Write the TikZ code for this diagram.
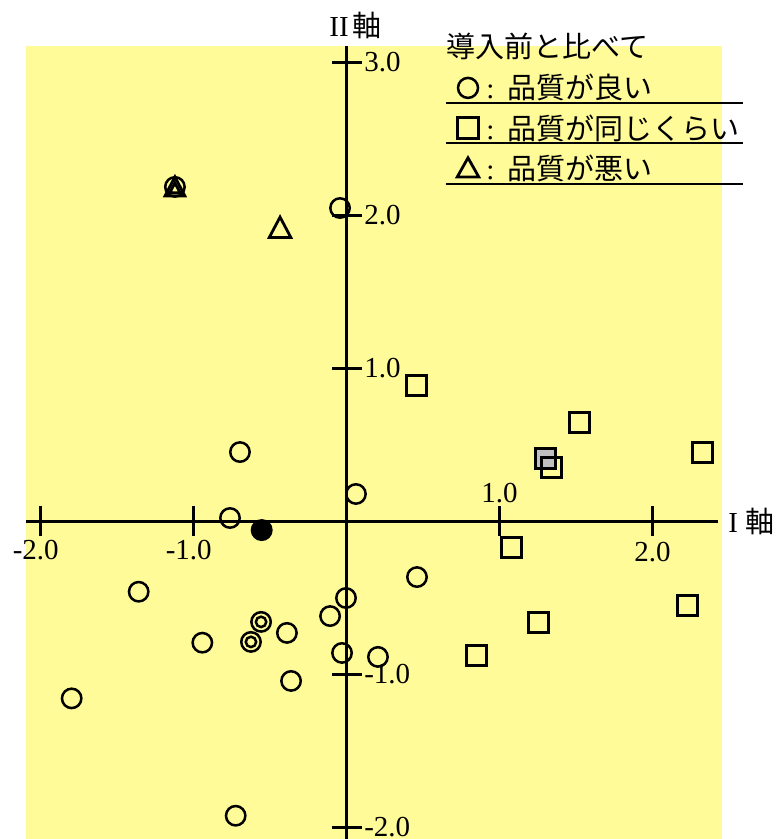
\documentclass[tikz,border=0pt]{standalone}
\usepackage{fontspec}
\setmainfont{Liberation Serif}
\newfontfamily\jfont{Noto Sans CJK JP}
\definecolor{plotbg}{RGB}{255,251,153}
\definecolor{markgray}{RGB}{192,192,192}
\tikzset{
  axisline/.style={black, line width=1.4pt},
  goodmk/.style={black, line width=1.25pt},
  samemk/.style={black, line width=1.5pt},
  badmk/.style={black, line width=1.4pt, line join=miter},
  ticklab/.style={inner sep=0pt}
}

\begin{document}
\begin{tikzpicture}[x=76.5pt, y=76.5pt, font=\fontsize{14.5}{17}\selectfont]
    % Page size and the yellow plot area
    \useasboundingbox (-2.2654,-2.0771) rectangle (2.8131,3.4065);
    \fill[plotbg] (-2.0954,-2.0771) rectangle (2.4516,3.1059);

    % Draw axes
    \draw[axisline] (-2.0954,0) -- (2.4275,0);
    \draw[axisline] (0,-2.0771) -- (0,3.1059);
    \node[ticklab, anchor=west] (xname) at (2.4928,0) {I {\jfont 軸}};
    \node[ticklab, anchor=west] (yname) at (-0.115,3.243) {II\kern2pt{\jfont 軸}};

    % Ticks on the I axis
    \draw[axisline] (-2,-0.098) -- (-2,0.098);
    \draw[axisline] (-1,-0.098) -- (-1,0.098);
    \draw[axisline] (1,-0.098) -- (1,0.098);
    \draw[axisline] (2,-0.098) -- (2,0.098);
    \node[anchor=north, inner sep=2pt] (xm2) at (-2,-0.098) {\llap{-}2.0};
    \node[anchor=north, inner sep=2pt] (xm1) at (-1,-0.098) {\llap{-}1.0};
    \node[anchor=south, inner sep=1.5pt] (xp1) at (1,0.098) {1.0};
    \node[anchor=north, inner sep=3pt] (xp2) at (2,-0.098) {2.0};

    % Ticks on the II axis
    \foreach \t/\lab [count=\i] in {3/3.0, 2/2.0, 1/1.0, -1/-1.0, -2/-2.0}
      \draw[axisline] (-0.095,\t) -- (0.1,\t)
        node[ticklab, anchor=west, xshift=0.5pt] (yt\i) {\lab};

    % Legend
    \node[ticklab, anchor=west] (legtitle) at (0.650,3.106) {\jfont 導入前と比べて};
    \draw[goodmk] (0.7935,2.832) circle (5pt);
    \draw[samemk] (0.7935,2.570) ++(-5.2pt,-5.2pt) rectangle ++(10.4pt,10.4pt);
    \draw[badmk] (0.7935,2.307) ++(-5.4pt,-4.4pt) -- ++(10.8pt,0) -- ++(-5.4pt,9.6pt) -- cycle;
    \node[ticklab, anchor=west] (leggood) at (0.911,2.832) {:\hspace{6.5pt}{\jfont 品質が良い}};
    \node[ticklab, anchor=west] (legsame) at (0.911,2.570) {:\hspace{6.5pt}{\jfont 品質が同じくらい}};
    \node[ticklab, anchor=west] (legbad) at (0.911,2.307) {:\hspace{6.5pt}{\jfont 品質が悪い}};
    \draw[black, line width=1pt] (0.650,2.733) -- (2.591,2.733);
    \draw[black, line width=1pt] (0.650,2.472) -- (2.591,2.472);
    \draw[black, line width=1pt] (0.650,2.204) -- (2.591,2.204);

    % Better quality: circles
    \foreach \x/\y in {-0.043/2.047, -0.697/0.452, 0.061/0.178, -0.762/0.021,
                       -1.359/-0.461, -0.004/-0.502, 0.460/-0.365, -0.108/-0.620,
                       -0.390/-0.730, -0.943/-0.794, -0.363/-1.044, -0.030/-0.861,
                       0.205/-0.887, -1.797/-1.158, -0.725/-1.925, -1.122/2.185}
      \draw[goodmk] (\x,\y) circle (4.85pt);
    % double circles and the filled one
    \foreach \x/\y in {-0.559/-0.658, -0.625/-0.789}
      \draw[goodmk] (\x,\y) circle (4.85pt) (\x,\y) circle (2.6pt);
    \fill[black] (-0.555,-0.058) circle (5.5pt);

    % Same quality: squares
    \filldraw[samemk, fill=markgray] (1.301,0.413) ++(-5pt,-5pt) rectangle ++(10pt,10pt);
    \foreach \x/\y in {0.460/0.890, 1.519/0.648, 1.336/0.350, 2.329/0.451,
                       1.075/-0.173, 2.231/-0.554, 1.252/-0.659, 0.852/-0.875}
      \draw[samemk] (\x,\y) ++(-5pt,-5pt) rectangle ++(10pt,10pt);

    % Worse quality: triangles
    \draw[badmk] (-0.435,1.917) ++(-5.4pt,-4.8pt) -- ++(10.8pt,0) -- ++(-5.4pt,10.2pt) -- cycle;
    \draw[badmk] (-1.122,2.185) ++(-5pt,-4.6pt) -- ++(10pt,0) -- ++(-5pt,9.6pt) -- cycle;
    \draw[badmk] (-1.122,2.185) ++(-2.6pt,-3pt) -- ++(5.2pt,0) -- ++(-2.6pt,5pt) -- cycle;
\end{tikzpicture}
\end{document}
